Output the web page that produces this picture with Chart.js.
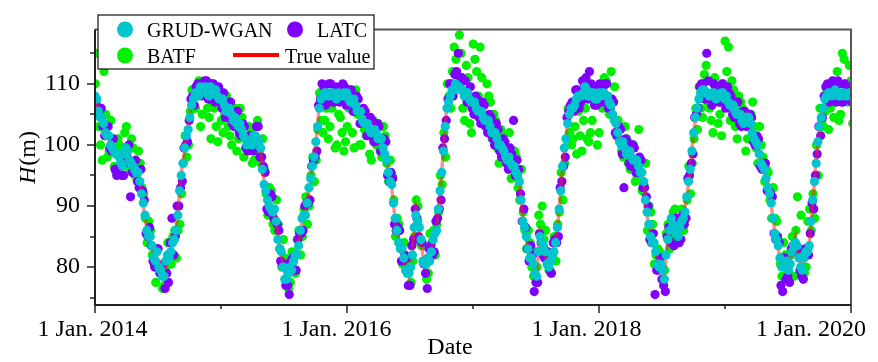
<!DOCTYPE html>
<html><head><meta charset="utf-8">
<script src="https://cdn.jsdelivr.net/npm/chart.js@4.4.1/dist/chart.umd.min.js"></script>
<style>html,body{margin:0;padding:0;background:#fff}#wrap{width:878px;height:362px;position:relative}</style>
</head><body><div id="wrap"><canvas id="c" width="878" height="362"></canvas></div>
<script>
// ---- data ----
const startYear = 2014;
const sampleStepDays = 10;      // readings every 10 days from 1 Jan. 2014
const grud2OffsetDays = 5;
const latcOffsetDays = 3, latc2OffsetDays = 8;
const batfOffsetDays = 6, batf2OffsetDays = 1;

const trueValue = [
 108.5,106,104,102.5,101,100,99,97.5,97,99,98,97,96,94.5,90,86.5,84.5,82,81.5,80.5,79,81,83,84,89,95.5,99,103,107,108,108.5,109.5,109,108.5,109,108.5,108,
 107,106,105.5,104.5,104,103,102,100.5,100,101,101.5,99,94,90.5,90,89,85,82,79,78.5,80,81,84,87.5,89,92.5,96,100,106.5,108.5,108,108.5,108,108,108.5,108,
 108,107.5,107,106,105,104,103,102.5,102,101.5,100.5,99,96,93,87.5,84.5,82.5,80,78.5,83,89.5,86,82,80,82,84,86.5,92,99.5,106.5,108.5,109.5,110,109.5,108.5,108,107.5,
 106.5,106,105,104.5,103.5,102.5,101.5,100.5,99.5,98.5,97.5,97,96,93.5,88,84.5,82,80,79,85.5,83,81,80.5,83,86,93,99,104,105.5,107,107.5,108.5,109,108.5,108,108,108,
 108,108.5,107.5,105.5,103,101,100,99,98.5,98,97,96,94.5,88.5,85.5,83.5,81,80,78.5,85,87.5,86,85.5,87,89.5,93.5,99.5,104,108,108.5,109,108.5,108,108,108.5,108,
 107.5,107,106,105.5,104.5,104,105,103,101.5,99.5,97.5,95.5,93.5,90,86,83,80.5,80,80.5,82,85,81,80.5,82,84,90.5,97.5,102.5,106.5,108.5,108,109,108,108.5,108,108.5,108
];
const grudWgan = [
 108,105.5,104.5,102,101.5,99.5,98.5,98,96.5,99.5,97.5,96.5,95.5,94,90.5,86,85,81.5,82.5,79.5,78.5,82,82.5,84.5,88.5,95,99.5,102.5,106.5,108.5,108,109,109.5,108,108.5,109,107.5,
 107.5,105.5,106,104,103.5,103.5,101.5,100,100.5,101.5,101,99.5,93.5,91,89.5,89.5,84.5,82.5,78,79,79.5,82,83.5,88,88.5,93,96.5,100.5,106,108,108.5,108,108.5,107.5,108,108.5,
 108.5,107,107.5,105.5,105.5,103.5,103.5,102,102.5,101,101,98.5,95.5,93.5,88,84,83,79.5,79,82,88.5,86.5,81,80.5,81,84.5,86,92.5,99,106,108,109,109.5,109,108,108.5,107,
 107,105.5,105.5,104,104,102,102,100,99.5,98,98,96.5,95.5,94,87.5,85,81.5,80.5,78.5,85,83.5,80.5,81,82.5,86.5,92.5,99.5,103.5,106,106.5,108,108,109.5,108,108.5,107.5,108.5,
 108.5,108,107,105,103.5,100.5,100.5,98.5,99,97.5,97.5,95.5,94,89,85,84,80.5,80.5,78,84.5,88,86.5,85,87.5,89,94,99,104.5,107.5,109,108.5,108,108.5,107.5,108,108.5,
 108,106.5,106.5,105,105,103.5,104.5,103.5,101,100,97,96,93,90.5,85.5,83.5,80,80.5,79.5,82.5,84,81.5,79.5,82.5,83.5,91,97,103,106,108,108.5,108.5,108.5,108,108.5,108,108.5
];
const grudWgan2 = [
 107.5,104.5,103.5,101.5,100,99,98.5,97,98.5,99,97,96,95.5,92,88.5,85,83.5,81,80,78.5,81,81.5,84,86,92.5,97,101.5,104.5,107.5,108,109.5,109,108.5,109.5,108.5,108,107.5,
 106.5,105.5,105,104.5,103,102.5,101,100.5,100,101.5,100.5,96,92.5,90,89,87.5,83,80,78,80,81,82,86,88.5,90.5,94.5,98,103,107.5,108.5,108,108.5,108,108.5,108,108,
 107.5,107,106.5,105.5,104,103.5,102.5,102,102,101,99.5,97.5,94,90.5,86,83,81.5,79,80,86.5,87.5,84.5,80.5,81.5,82.5,85.5,89.5,95.5,103,107,109,110,109.5,109,108.5,107.5,107,
 106,105.5,104.5,104,103,102,101,100,99,97.5,97,96.5,95,91,86.5,83,81.5,79,82.5,84,82.5,80,82,84,89.5,96.5,101,105,106,107.5,108,108.5,109,108,108.5,107.5,108,
 108.5,108,106.5,104,102,100,99.5,99,98,97.5,96.5,95.5,91,87,84,82.5,80,79.5,82,86,87,85.5,86.5,88,91.5,96,102,106,108.5,109,108.5,108,108.5,108,108.5,107.5,
 107,106.5,105.5,105,104,104.5,104.5,102,100.5,98.5,96.5,94.5,92,88,84.5,81.5,80,81,80.5,83.5,83.5,80,81.5,82.5,87.5,94,100.5,104.5,107.5,108.5,108,109,108,108.5,108,108.5,108
];
const latc = [
 107,105,103,101.5,99.5,101,95,96.5,95,98,91.5,96,94,96,91,85,83.5,80,83,79,76.5,77.5,88,85,90,94,100,104,108,109.5,110,108.5,110.5,107.5,110,109.5,107,
 108.5,104.5,107,103,105.5,101.5,103,99,101.5,99.5,103,98,95.5,89,91.5,87.5,86,80.5,77,75.5,81.5,79.5,85.5,86,90.5,91,97.5,99,107.5,109.5,107,110,107,109,107.5,109.5,
 107,109,105.5,107.5,103.5,105.5,101.5,104,100.5,103,99,100.5,94,94.5,86,86,81,81.5,77,84.5,88,84.5,80.5,76.5,83.5,82.5,88,91,101,107.5,110,111.5,115,111,110.5,107,106,
 108,104.5,107,103,105,101,103.5,99,101,97,99.5,104,97.5,92,89.5,83,83.5,76,77.5,84,81.5,82.5,79,84.5,85,94,98,105.5,107,109,106,110.5,111,112,109.5,106.5,110,
 109.5,110,106,107,101.5,102.5,93,100.5,96.5,99.5,95.5,97.5,93,90,84,75.5,79.5,78,76,86.5,86,88,84,88.5,88,95,98.5,105,109.5,110,115,107.5,110,109.5,107,109,
 109.5,108,104.5,107,103,105.5,103.5,104.5,100,101,96,97,92.5,91.5,84.5,84,76,78,77.5,83.5,83,79.5,78,83,85.5,89.5,98.5,101.5,108,110,109.5,107.5,110.5,107,110,109.5,107
];
const latc2 = [
 105.5,106,101.5,103,99,96,96,95,97,100,95.5,97.5,93,92.5,85.5,86.5,81,83,79,80.5,79,84,82,90,93,99.5,100.5,107.5,106.5,110,108,110.5,107.5,110,107,109.5,106,
 104.5,107,103.5,105.5,102,103.5,99.5,101.5,99,103,98,96.5,89.5,92,88,87,81,80.5,77,81,79.5,84.5,85.5,90,90.5,96.5,98,106.5,110,106.5,110,107,109.5,107,110,106.5,
 109,105.5,108,103.5,106,101.5,104.5,100.5,103.5,99,101,95,95.5,87,86.5,81,82,77,83.5,89.5,85,84,79,83,82,87.5,89.5,99.5,104,110,108,112,111,110.5,107,109.5,105,
 107.5,103.5,106.5,102,104.5,100,102.5,98,100.5,96,98.5,95,96,87.5,86.5,81,82,77.5,85.5,82,82.5,79.5,84,84,93,96.5,104.5,106.5,105.5,109,107,110,107.5,110,106.5,109.5,107,
 110,106,107.5,102,103,98.5,101,97,100,95.5,98,93,91.5,84.5,85.5,79.5,81.5,77,85,84,83.5,85,84.5,87,94.5,97,104.5,106,110,107.5,110.5,106.5,109.5,107,110,106,
 108.5,105,107,103.5,105.5,103,105,100.5,101.5,96.5,97,92.5,92,85.5,85,77,81.5,78.5,83,82.5,83,78.5,83,82,90.5,95,103,104.5,109.5,107,110.5,107,110,107,109.5,107.5,109
];
const batf = [
 115,100,112,98,104,96.5,101,99.5,102,97,101,95,99,93,88,87.5,82,77.5,80,76.5,80,82,85,81.5,87,97,98,105.5,106,109,103,110,106,101,106,100.5,104,
 105,103,100,106,101,104.5,99.5,103,97,100.5,99,101,92,93,87,91,83,84.5,80,77.5,81,84.5,82,89.5,87,95,94,102.5,104,104,101,106,99.5,105,102,100.5,
 106,102,109,100,104,101.5,98.5,104,100,99,103,97,97.5,91,88,83,84,79,77.5,85,90,83.5,81,79,84,82,89,93.5,98,108,112,114,118,106,113,103.5,116.5,
 112,116,104,110,107,105,99.5,102.5,98,99,94.5,99,93,96,86,86,80,82.5,88.5,90,86,79.5,82,81,89,91,101,102,101,98.5,101.5,104,101,102,107,100,108,
 111,108,112,109.5,104,99,103,97,99.5,94,102.5,92.5,97,90,87,82,82.5,78,85.5,83,89,84.5,87.5,86,91,92,101,102.5,106,111.5,107,104,111,103.5,101.5,117,
 116,110.5,103,108,106,99,104,107,99.5,103,98,96,91,93,87.5,80.5,84,78,82,78.5,91.5,88.5,79,87.5,86,88,95,104,105.5,102.5,108,107,104,115,110,113,103.5
];
const batf2 = [
 110,103,97.5,105,99,101,95.5,100,99.5,103,96,99.5,94.5,97,92,84,86,80.5,83,79,77,84,80.5,86,86,92,101.5,100,109,106,110.5,105,108.5,104.5,107,103,109,
 102,108,101.5,104,99,106,98,101,102.5,97.5,104,97,96,88.5,92.5,86,87,80,81.5,76.5,82.5,79,86,85,91.5,90,98,97.5,108.5,102,106,103,107,100,104.5,99,
 103,108,99.5,105,100,102.5,104,97.5,101,103.5,98,101.5,94,95,85,87,80.5,81,80,81,91,84,83.5,78,85.5,86,87,95,102,110,106,116,109.5,115,104,111,102,
 114,108,111,103,108,101,104,97,101.5,99,102,96,98,91,89,83,84,78.5,80,87,84.5,82,79,85,87,95.5,97,106,100,103,105.5,99,106,100.5,104,109,102,
 106,110.5,105,107,101.5,103,98,101,96,100,95,97,93.5,86,89,80.5,83,80,79.5,87,85,89.5,84,89.5,88,96.5,97,106,109.5,104.5,113,106,102,108,105,110,
 112,104,109,101,107,103.5,101,105,103,97,100,94,95.5,88,88,84,78.5,82,79,85,86,82,81.5,80,89.5,92,100,106,103,109,106,104.5,112,105,114,107,110.5
];
const yearTicks = [2014,2015,2016,2017,2018,2019,2020];
const labeledYears = [2014,2016,2018,2020];
const yMajorTicks = [80,90,100,110];
const yMinorTicks = [75,85,95,105,115];
const yRange = [73.8, 118.9];

// ---- helpers ----
const dayOfYearStart = y => (Date.UTC(y,0,1) - Date.UTC(startYear,0,1)) / 86400000;
const toPoints = (arr, off) => arr.map((v,i) => ({x: off + i*sampleStepDays, y: v}));
const SERIF = "'Liberation Serif','Times New Roman',serif";
const COL = {grud:'#00C5CD', latc:'#8000FF', batf:'#00F000', truth:'rgba(255,30,30,0.5)'};

const decor = {
  id:'decor',
  afterDatasetsDraw(chart){
    const {ctx, chartArea:a, scales:{x, y}} = chart;
    ctx.save();
    ctx.lineCap = 'butt';
    ctx.strokeStyle = '#555'; ctx.lineWidth = 2;
    ctx.beginPath(); ctx.moveTo(a.left, a.top); ctx.lineTo(a.right, a.top); ctx.lineTo(a.right, a.bottom); ctx.stroke();
    ctx.strokeStyle = '#222';
    ctx.beginPath(); ctx.moveTo(a.left, a.top); ctx.lineTo(a.left, a.bottom); ctx.lineTo(a.right, a.bottom); ctx.stroke();
    ctx.lineWidth = 1.5;
    yMajorTicks.forEach(v => { const p = Math.round(y.getPixelForValue(v)); ctx.beginPath(); ctx.moveTo(a.left, p); ctx.lineTo(a.left-8, p); ctx.stroke(); });
    yMinorTicks.forEach(v => { const p = Math.round(y.getPixelForValue(v)); ctx.beginPath(); ctx.moveTo(a.left, p); ctx.lineTo(a.left-5, p); ctx.stroke(); });
    const labelShift = {2014:-2.5, 2016:-10.5, 2018:-12.5, 2020:-40};
    ctx.fillStyle = '#000'; ctx.font = `24px ${SERIF}`; ctx.textAlign = 'center'; ctx.textBaseline = 'alphabetic';
    yearTicks.forEach(yr => {
      const p = Math.round(x.getPixelForValue(dayOfYearStart(yr)));
      const major = labeledYears.includes(yr);
      ctx.beginPath(); ctx.moveTo(p, a.bottom); ctx.lineTo(p, a.bottom + (major ? 8 : 4)); ctx.stroke();
      if (major) ctx.fillText('1 Jan. ' + yr, p + labelShift[yr], 336);
    });
    ctx.font = `24px ${SERIF}`;
    ctx.fillText('Date', 450, 354);
    ctx.save();
    ctx.translate(35, 158); ctx.rotate(-Math.PI/2);
    ctx.textAlign = 'left';
    ctx.font = `italic 24px ${SERIF}`; const wH = ctx.measureText('H').width;
    ctx.font = `24px ${SERIF}`; const wM = ctx.measureText('(m)').width;
    const x0 = -(wH + wM)/2;
    ctx.font = `italic 24px ${SERIF}`; ctx.fillText('H', x0, 0);
    ctx.font = `24px ${SERIF}`; ctx.fillText('(m)', x0 + wH + 1, 0);
    ctx.restore();
    ctx.fillStyle = '#fff'; ctx.fillRect(98, 15, 276, 54);
    ctx.strokeStyle = '#111'; ctx.lineWidth = 1.2; ctx.strokeRect(98, 15, 276, 54);
    ctx.textAlign = 'left'; ctx.textBaseline = 'alphabetic'; ctx.font = `20px ${SERIF}`;
    const dot = (cx, cy, c) => { ctx.fillStyle = c; ctx.beginPath(); ctx.arc(cx, cy, 8, 0, Math.PI*2); ctx.fill(); };
    dot(125, 29.5, COL.grud); dot(295, 29.5, COL.latc); dot(125, 55.5, COL.batf);
    ctx.strokeStyle = '#FF0000'; ctx.lineWidth = 4; ctx.beginPath(); ctx.moveTo(233, 55); ctx.lineTo(279, 55); ctx.stroke();
    ctx.fillStyle = '#000';
    ctx.fillText('GRUD-WGAN', 147, 36.5);
    ctx.fillText('LATC', 317, 36.5);
    ctx.fillText('BATF', 147, 62.5);
    ctx.fillText('True value', 285, 62.5);
    ctx.restore();
  }
};

const pointStyle = c => ({ backgroundColor: c, pointRadius: 4.6, pointBorderWidth: 0 });

new Chart(document.getElementById('c'), {
  type: 'scatter',
  data: { datasets: [
    Object.assign({label:'GRUD-WGAN', data: toPoints(grudWgan, 0).concat(toPoints(grudWgan2, grud2OffsetDays)), order: 0}, pointStyle(COL.grud)),
    {label:'True value', data: toPoints(trueValue, 0), showLine: true, borderColor: COL.truth, borderWidth: 3.5, pointRadius: 0, order: 1},
    Object.assign({label:'LATC', data: toPoints(latc, latcOffsetDays).concat(toPoints(latc2, latc2OffsetDays)), order: 2}, pointStyle(COL.latc)),
    Object.assign({label:'BATF', data: toPoints(batf, batfOffsetDays).concat(toPoints(batf2, batf2OffsetDays)), order: 3}, pointStyle(COL.batf))
  ]},
  options: {
    responsive: false, animation: false, devicePixelRatio: 1,
    layout: { padding: { left: 0, right: 27, top: 12, bottom: 0 } },
    plugins: { legend: { display: false }, tooltip: { enabled: false } },
    scales: {
      x: { type: 'linear', min: 0, max: dayOfYearStart(2020),
           grid: { display: false, drawTicks: false }, border: { display: false },
           ticks: { display: false }, afterFit(s){ s.height = 57; } },
      y: { min: yRange[0], max: yRange[1],
           grid: { display: false, drawTicks: false }, border: { display: false },
           ticks: { font: { family: SERIF, size: 24 }, color: '#000', padding: 15 },
           afterBuildTicks(s){ s.ticks = yMajorTicks.map(v => ({ value: v })); },
           afterFit(s){ s.width = 95; } }
    }
  },
  plugins: [decor]
});
</script></body></html>
